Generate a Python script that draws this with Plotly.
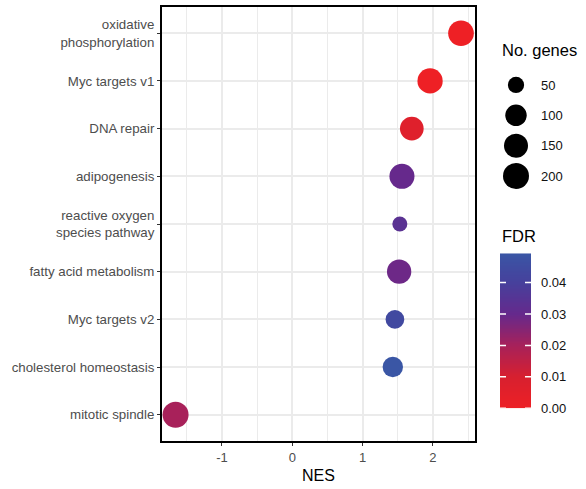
import plotly.graph_objects as go

# Hallmark gene sets, ordered bottom to top on the y axis
pathways = [
    "mitotic spindle",
    "cholesterol homeostasis",
    "Myc targets v2",
    "fatty acid metabolism",
    "reactive oxygen<br>species pathway",
    "adipogenesis",
    "DNA repair",
    "Myc targets v1",
    "oxidative<br>phosphorylation",
]
nes = [-1.66, 1.43, 1.46, 1.52, 1.53, 1.56, 1.70, 1.96, 2.40]
fdr = [0.020, 0.0493, 0.044, 0.029, 0.034, 0.030, 0.007, 0.0, 0.0]
n_genes = [200, 85, 65, 157, 48, 174, 143, 181, 192]

legend_counts = [50, 100, 150, 200]
fdr_ticks = [0.00, 0.01, 0.02, 0.03, 0.04]
x_ticks = [-1, 0, 1, 2]

FONT = "Liberation Sans, Arial, sans-serif"

# FDR gradient: red (significant) through purple to blue
FDR_MAX = max(fdr)
gradient_colors = ["#EE2025", "#D8202F", "#A8215A", "#66298C", "#47409C", "#3A56A5"]
gradient_values = [0.0, 0.01, 0.02, 0.03, 0.04, FDR_MAX]
colorscale = [[v / FDR_MAX, c] for v, c in zip(gradient_values, gradient_colors)]

# --- point size: area-style scaling between the smallest and largest set ----
N_MIN, N_MAX = min(n_genes), max(n_genes)
D_MIN, D_MAX = 15.0, 26.0


def diameter(n):
    frac = (n - N_MIN) / (N_MAX - N_MIN)
    return D_MIN + (D_MAX - D_MIN) * max(frac, 0) ** 0.5


# pixel geometry of the panel and the keys
PLOT_L, PLOT_R, PLOT_T, PLOT_B = 162, 475, 7, 441
FIG_W, FIG_H = 586, 489
AREA_W = FIG_W - PLOT_L
AREA_H = PLOT_B - PLOT_T
CB_LEFT, CB_BOTTOM, CB_LEN, CB_THICK = 500, 408.3, 155, 31
CB_TICK = 6


def px_x(x):
    return (x - PLOT_L) / AREA_W


def px_y(y):
    return (PLOT_B - y) / AREA_H


fig = go.Figure()

fig.add_trace(go.Scatter(
    x=nes,
    y=pathways,
    mode="markers",
    marker=dict(
        size=[diameter(n) for n in n_genes],
        sizemode="diameter",
        color=fdr,
        cmin=0,
        cmax=FDR_MAX,
        colorscale=colorscale,
        line=dict(width=0),
        opacity=1,
        showscale=False,
    ),
    hovertemplate="%{y}<br>NES=%{x}<br>FDR=%{marker.color}<extra></extra>",
    showlegend=False,
))

# Size key for gene counts
fig.add_trace(go.Scatter(
    x=[0] * len(legend_counts),
    y=legend_counts,
    xaxis="x2",
    yaxis="y2",
    mode="markers",
    marker=dict(size=[diameter(n) for n in legend_counts], sizemode="diameter",
                color="#000000", opacity=1, line=dict(width=0)),
    hoverinfo="skip",
    showlegend=False,
))

# Colour key for FDR: a smooth vertical gradient strip on its own axes
strip_steps = 120
strip_y = [FDR_MAX * i / strip_steps for i in range(strip_steps + 1)]
fig.add_trace(go.Heatmap(
    x=[0, 1],
    y=strip_y,
    z=[[v, v] for v in strip_y],
    xaxis="x3",
    yaxis="y3",
    zmin=0,
    zmax=FDR_MAX,
    colorscale=colorscale,
    zsmooth="best",
    showscale=False,
    hoverinfo="skip",
))

# white ticks on both inner edges of the colour strip
shapes = []
for v in fdr_ticks:
    for x0, x1 in ((0, CB_TICK / CB_THICK), (1 - CB_TICK / CB_THICK, 1)):
        shapes.append(dict(type="line", xref="x3 domain", yref="y3",
                           x0=x0, x1=x1, y0=v, y1=v,
                           line=dict(color="white", width=1.5), layer="above"))

grid = "#EBEBEB"
fig.update_layout(
    width=FIG_W,
    height=FIG_H,
    margin=dict(l=PLOT_L, r=0, t=PLOT_T, b=FIG_H - PLOT_B, autoexpand=False),
    paper_bgcolor="white",
    plot_bgcolor="white",
    font=dict(family=FONT, size=13, color="#4D4D4D"),
    xaxis=dict(
        domain=[0, px_x(PLOT_R)],
        range=[-1.853, 2.599],
        tickvals=x_ticks,
        ticktext=[str(v) for v in x_ticks],
        showgrid=True, gridcolor=grid, gridwidth=1.7,
        minor=dict(dtick=0.5, tick0=0.5, showgrid=True, gridcolor=grid, gridwidth=1.2),
        zeroline=False,
        showline=True, mirror=True, linecolor="black", linewidth=2,
        ticks="outside", ticklen=3, tickwidth=1, tickcolor="#333333",
        tickfont=dict(size=13, color="#4D4D4D"),
        anchor="y",
    ),
    yaxis=dict(
        type="category",
        categoryorder="array",
        categoryarray=pathways,
        range=[-0.55, len(pathways) - 0.45],
        showgrid=True, gridcolor=grid, gridwidth=1.7,
        zeroline=False,
        showline=True, mirror=True, linecolor="black", linewidth=2,
        ticks="outside", ticklen=3, tickwidth=1.2, tickcolor="#333333",
        tickfont=dict(size=13.3, color="#4D4D4D"),
        anchor="x",
    ),
    xaxis2=dict(
        domain=[px_x(500), px_x(532)],
        range=[-1, 1],
        visible=False,
        anchor="y2",
    ),
    yaxis2=dict(
        domain=[px_y(191.2), px_y(69.8)],
        range=[225, 25],
        tickvals=legend_counts,
        side="right",
        anchor="x2",
        showgrid=False, zeroline=False, showline=False,
        ticks="",
        ticklabelstandoff=8,
        tickfont=dict(size=13, color="#111111"),
    ),
    xaxis3=dict(
        domain=[px_x(CB_LEFT), px_x(CB_LEFT + CB_THICK)],
        range=[0, 1],
        visible=False,
        anchor="y3",
    ),
    yaxis3=dict(
        domain=[px_y(CB_BOTTOM), px_y(CB_BOTTOM - CB_LEN)],
        range=[0, FDR_MAX],
        tickvals=fdr_ticks,
        ticktext=[f"{v:.2f}" for v in fdr_ticks],
        side="right",
        anchor="x3",
        showgrid=False, zeroline=False, showline=False,
        ticks="",
        ticklabelstandoff=9,
        tickfont=dict(size=13, color="#111111"),
    ),
    shapes=shapes,
    annotations=[
        dict(text="NES", xref="paper", yref="paper",
             x=px_x((PLOT_L + PLOT_R) / 2), y=px_y(475),
             xanchor="center", yanchor="middle", showarrow=False,
             font=dict(size=16, color="black")),
        dict(text="No. genes", xref="paper", yref="paper",
             x=px_x(500), y=px_y(50),
             xanchor="left", yanchor="middle", showarrow=False,
             font=dict(size=16.5, color="black")),
        dict(text="FDR", xref="paper", yref="paper",
             x=px_x(500), y=px_y(236),
             xanchor="left", yanchor="middle", showarrow=False,
             font=dict(size=16.5, color="black")),
    ],
)

fig.write_html("out.html")
